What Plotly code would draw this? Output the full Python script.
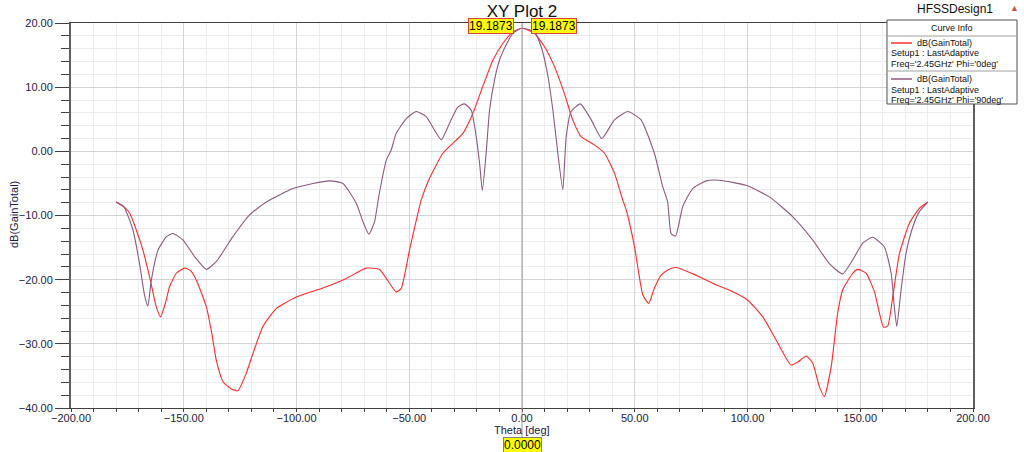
import plotly.graph_objects as go

# ---------------- data ----------------
theta_phi0 = [-180, -176, -173.9, -171, -168.1, -165, -162.2, -160.3, -158, -156.3, -153.3,
              -149.6, -147, -144.4, -140, -137.5, -135.6, -132.6, -129, -126, -122.3, -119.3,
              -114.9, -109, -100.1, -88.3, -77.9, -69.1, -63.2, -60.2, -55.8, -53.6, -49.9,
              -46.2, -44.7, -41, -35.1, -30.7, -26.2, -21.8, -17.4, -12.9, -8.5, -4.1, 0,
              5.5, 10, 14.4, 18.8, 22.5, 26.2, 32.1, 36.6, 41, 44.7, 46.2, 49.9, 53.6, 56.2,
              58.5, 61.7, 65, 68.4, 77.2, 86.1, 93.5, 100.1, 106.8, 112.7, 119.3, 122.5, 126,
              128.9, 131.9, 134.1, 137.1, 140, 142.2, 146.7, 148.9, 152.6, 156.3, 160.3, 162.2,
              164.4, 167.4, 171.8, 176.2, 180]
gain_phi0 = [-7.9, -8.8, -9.7, -12.3, -15.4, -19.8, -24.2, -25.8, -23.5, -21.1, -19.0,
             -18.2, -18.6, -20.1, -24.2, -28.5, -32.5, -35.9, -37.0, -37.3, -34.6, -31.5,
             -27.3, -24.5, -22.7, -21.3, -19.8, -18.2, -18.4, -19.8, -21.9, -21.4, -15.4,
             -9.7, -7.6, -4.2, -0.3, 1.25, 2.8, 5.9, 10.1, 14.2, 16.8, 18.6, 19.1873,
             18.4, 16.3, 13.2, 9.0, 4.9, 2.3, 1.0, -0.3, -3.4, -7.6, -9.1, -14.9, -22.4, -23.7,
             -21.5, -19.3, -18.4, -18.1, -19.3, -20.8, -21.9, -23.2, -25.8, -29.4, -33.3, -32.8, -31.9,
             -33.0, -36.7, -38.2, -33.6, -25.2, -21.6, -19.0, -18.4, -19.0, -21.9, -27.4, -27.2,
             -22.7, -15.9, -11.2, -8.9, -7.9]

theta_phi90 = [-180, -176.6, -172.5, -169.6, -167.4, -165.9, -164.4, -161.4, -157.7, -154.8,
               -150.4, -145.2, -140, -135.6, -128.2, -120.8, -113.4, -101.6, -92.7, -85.3,
               -79.4, -73.5, -70.5, -67.9, -65.4, -63.5, -60.2, -58, -55.8, -51.3, -46.9, -42.5,
               -38.8, -35.8, -32.1, -28.5, -25.5, -22.5, -20.3, -18.8, -17.6, -15.9, -14.4,
               -12.2, -10, -7, -4.1, 0, 5.5, 8.5, 11.4, 13.7, 15.9, 18.1, 19.6, 21.8, 25.9,
               30.7, 35.4, 41, 46.9, 52.8, 58.7, 62.4, 64.6, 66.1, 68.1, 71.3, 75.7, 81.7,
               87.6, 99.4, 109.7, 120.1, 128.9, 136.3, 142.2, 146.7, 151.1, 155.5, 160.7,
               163.7, 165.1, 166.2, 168.1, 170.3, 173.3, 176.2, 180]
gain_phi90 = [-7.9, -8.6, -12.3, -17.5, -22.4, -24.1, -20.1, -15.4, -13.3, -12.8,
              -13.8, -16.4, -18.4, -17.2, -13.3, -9.9, -7.9, -5.8, -5.0, -4.6,
              -5.0, -8.1, -11.0, -12.9, -11.0, -7.0, -1.4, 0.2, 2.8, 5.1, 6.2, 5.4,
              3.3, 1.8, 4.4, 6.9, 7.4, 6.4, 2.3, -1.9, -6.1, -0.3, 6.4,
              11.1, 14.2, 16.6, 18.4, 19.1873, 18.6, 16.3, 11.9, 6.4, -0.3, -6.0, 2.3, 6.2, 7.4,
              4.9, 2.0, 4.9, 6.2, 4.9, -0.3, -5.5, -7.9, -12.8, -13.2, -8.6, -5.8, -4.6,
              -4.5, -5.3, -7.1, -10.2, -13.8, -17.5, -19.1, -16.9, -14.3, -13.4, -14.9,
              -19.0, -24.2, -27.3, -21.6, -15.9, -11.8, -9.4, -7.9]

series_names = ["dB(GainTotal)", "dB(GainTotal)"]
series_setup = "Setup1 : LastAdaptive"
series_freq = ["Freq='2.45GHz' Phi='0deg'", "Freq='2.45GHz' Phi='90deg'"]
x_title = "Theta [deg]"
y_title = "dB(GainTotal)"
marker_theta = 0.0
marker_value = 19.1873

RED = "#ff2a2a"
PURPLE = "#8a5a7e"
FONT = "Arial, Liberation Sans, sans-serif"
TICKC = "#202040"

# plot area geometry (pixels)
W, H = 1024, 452
L, R, T, B = 71, 973, 23, 408


def px(x):
    return (x - L) / (R - L)


def py(y):
    return (B - y) / (B - T)


fig = go.Figure()
fig.add_trace(go.Scatter(x=theta_phi0, y=gain_phi0, mode="lines",
                         line=dict(color=RED, width=1.1, shape="spline", smoothing=0.5),
                         showlegend=False, hoverinfo="skip"))
fig.add_trace(go.Scatter(x=theta_phi90, y=gain_phi90, mode="lines",
                         line=dict(color=PURPLE, width=1.1, shape="spline", smoothing=0.5),
                         showlegend=False, hoverinfo="skip"))

fig.update_layout(
    width=W, height=H,
    margin=dict(l=L, r=W - R, t=T, b=H - B, autoexpand=False),
    paper_bgcolor="white", plot_bgcolor="white",
    font=dict(family=FONT, size=11, color=TICKC),
    title=dict(text="XY Plot 2", x=px(522), xref="paper", xanchor="center",
               y=1 - 11 / H, yref="container", yanchor="middle",
               font=dict(family=FONT, size=17, color="#101010")),
    showlegend=False,
)

fig.update_xaxes(
    range=[-200, 200], dtick=50, tick0=0, tickformat=".2f", automargin=False,
    showgrid=True, gridcolor="#d4d4d4", gridwidth=1,
    showline=True, linecolor="#404040", linewidth=1, mirror=True,
    ticks="outside", ticklen=3, tickcolor="#404040", ticklabelstandoff=-3,
    minor=dict(dtick=10, showgrid=True, gridcolor="#ececec", ticks="outside",
               ticklen=3, tickcolor="#404040"),
    tickfont=dict(family=FONT, size=11, color=TICKC),
    zeroline=False,
)
fig.update_yaxes(
    range=[-40, 20], dtick=10, tick0=0, tickformat=".2f", automargin=False,
    showgrid=True, gridcolor="#d4d4d4", gridwidth=1,
    showline=True, linecolor="#606060", linewidth=2, mirror=True,
    ticks="outside", ticklen=14, tickcolor="#404040",
    minor=dict(dtick=2, showgrid=True, gridcolor="#ececec", ticks="outside",
               ticklen=8, tickcolor="#404040"),
    tickfont=dict(family=FONT, size=11, color=TICKC),
    zeroline=False,
)

shapes = []
# marker line at theta = 0
shapes.append(dict(type="line", xref="x", yref="paper", x0=marker_theta, x1=marker_theta,
                   y0=py(437), y1=1, line=dict(color="#9a9a9a", width=1), layer="above"))
# legend box
shapes.append(dict(type="rect", xref="paper", yref="paper", x0=px(887), x1=px(1017),
                   y0=py(104), y1=py(20), fillcolor="white",
                   line=dict(color="#505050", width=1), layer="above"))
shapes.append(dict(type="line", xref="paper", yref="paper", x0=px(887), x1=px(1017),
                   y0=py(36), y1=py(36), line=dict(color="#a0a0a0", width=1), layer="above"))
shapes.append(dict(type="line", xref="paper", yref="paper", x0=px(887), x1=px(1017),
                   y0=py(71), y1=py(71), line=dict(color="#a0a0a0", width=1), layer="above"))
shapes.append(dict(type="line", xref="paper", yref="paper", x0=px(891), x1=px(912),
                   y0=py(43), y1=py(43), line=dict(color=RED, width=1.5), layer="above"))
shapes.append(dict(type="line", xref="paper", yref="paper", x0=px(891), x1=px(912),
                   y0=py(79), y1=py(79), line=dict(color=PURPLE, width=1.5), layer="above"))
fig.update_layout(shapes=shapes)

ann = []
AF = dict(family=FONT, size=11, color=TICKC)
ann.append(dict(text=x_title, xref="paper", yref="paper", x=px(522), y=py(430),
                xanchor="center", yanchor="middle", showarrow=False, font=AF))
ann.append(dict(text=y_title, xref="paper", yref="paper", x=px(14), y=py(215),
                xanchor="center", yanchor="middle", showarrow=False, textangle=-90, font=AF))
LF = dict(family=FONT, size=9, color="#101010")
ann.append(dict(text="Curve Info", xref="paper", yref="paper", x=px(952), y=py(28),
                xanchor="center", yanchor="middle", showarrow=False, font=LF))
for i, yy in enumerate([43, 79]):
    ann.append(dict(text=series_names[i], xref="paper", yref="paper", x=px(915), y=py(yy),
                    xanchor="left", yanchor="middle", showarrow=False, font=LF))
    ann.append(dict(text=series_setup, xref="paper", yref="paper", x=px(889), y=py(yy + 10.5),
                    xanchor="left", yanchor="middle", showarrow=False, font=LF))
    ann.append(dict(text=series_freq[i], xref="paper", yref="paper", x=px(889), y=py(yy + 21),
                    xanchor="left", yanchor="middle", showarrow=False, font=LF))
ann.append(dict(text="HFSSDesign1", xref="paper", yref="paper", x=px(955), y=py(9),
                xanchor="center", yanchor="middle", showarrow=False,
                font=dict(family=FONT, size=12, color="#101010")))
ann.append(dict(text="▲", xref="paper", yref="paper", x=px(1014), y=py(8),
                xanchor="center", yanchor="middle", showarrow=False,
                font=dict(family=FONT, size=9, color="#d05050")))
# marker value boxes
MF = dict(family=FONT, size=12, color="#000000")
ann.append(dict(text=f"{marker_value:.4f}", x=marker_theta, y=marker_value, xref="x", yref="y",
                xanchor="right", yanchor="middle", xshift=-8, yshift=2, showarrow=False,
                bgcolor="#ffff00", bordercolor="#e04040", borderwidth=1, borderpad=0, font=MF))
ann.append(dict(text=f"{marker_value:.4f}", x=marker_theta, y=marker_value, xref="x", yref="y",
                xanchor="left", yanchor="middle", xshift=9, yshift=2, showarrow=False,
                bgcolor="#ffff00", bordercolor="#e04040", borderwidth=1, borderpad=0, font=MF))
ann.append(dict(text=f"{marker_theta:.4f}", x=marker_theta, y=py(444.5), xref="x", yref="paper",
                xanchor="center", yanchor="middle", showarrow=False,
                bgcolor="#ffff00", bordercolor="#808080", borderwidth=1, borderpad=0, font=MF))
fig.update_layout(annotations=ann)

fig.write_html("out.html", config={"displayModeBar": False},
               post_script="document.body.style.margin='0px';")
